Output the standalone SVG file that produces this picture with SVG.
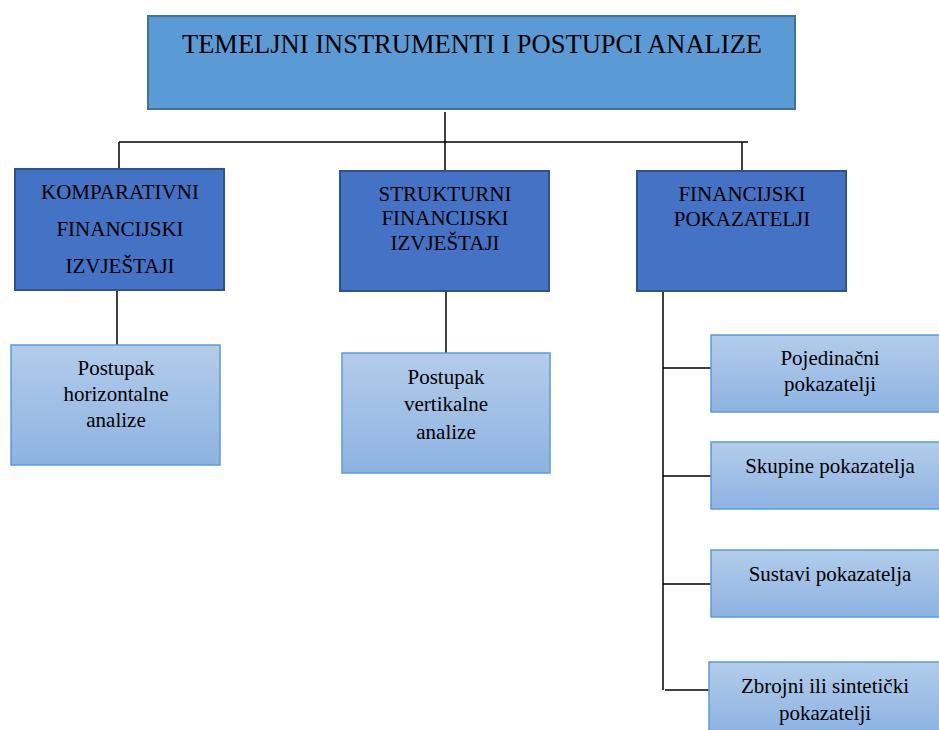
<svg xmlns="http://www.w3.org/2000/svg" width="939" height="730" viewBox="0 0 939 730">
<defs>
<linearGradient id="lg" x1="0" y1="0" x2="0" y2="1">
<stop offset="0" stop-color="#B3CCEA"/>
<stop offset="1" stop-color="#8DB3E2"/>
</linearGradient>
</defs>
<style>
.top{fill:#5B9BD5;stroke:#41719C;stroke-width:2}
.mid{fill:#4472C4;stroke:#2F528F;stroke-width:2}
.low{fill:url(#lg);stroke:#5B9BD5;stroke-width:1.5}
text{font-family:"Liberation Serif","Times New Roman",serif;fill:#000;text-anchor:middle}
.t1{font-size:26.5px}
.t2{font-size:21px}
.t3{font-size:21px}
.c{stroke:#000;stroke-width:1.5;fill:none}
</style>
<rect width="939" height="730" fill="#fff"/>
<g id="connectors">
<path class="c" d="M445 112V170"/>
<path class="c" d="M119 142H748" stroke="#333"/>
<path class="c" d="M119 142V169"/>
<path class="c" d="M742 142V171"/>
<path class="c" d="M117 290V345"/>
<path class="c" d="M446 292V353"/>
<path class="c" d="M663 292V690"/>
<path class="c" d="M663 368H711"/>
<path class="c" d="M663 476H711"/>
<path class="c" d="M663 584H711"/>
<path class="c" d="M665 690H711"/>
</g>
<g id="root">
<rect class="top" x="148" y="16" width="647" height="93"/>
<text class="t1" x="472" y="53">TEMELJNI INSTRUMENTI I POSTUPCI ANALIZE</text>
</g>
<g id="komparativni">
<rect class="mid" x="15" y="169" width="209" height="121"/>
<text class="t2" x="120" y="199">KOMPARATIVNI</text>
<text class="t2" x="120" y="236">FINANCIJSKI</text>
<text class="t2" x="120" y="273">IZVJEŠTAJI</text>
</g>
<g id="strukturni">
<rect class="mid" x="340" y="171" width="209" height="120"/>
<text class="t2" x="445" y="201">STRUKTURNI</text>
<text class="t2" x="445" y="225">FINANCIJSKI</text>
<text class="t2" x="445" y="250">IZVJEŠTAJI</text>
</g>
<g id="financijski">
<rect class="mid" x="637" y="171" width="209" height="120"/>
<text class="t2" x="742" y="201">FINANCIJSKI</text>
<text class="t2" x="742" y="226">POKAZATELJI</text>
</g>
<g id="horizontalna">
<rect class="low" x="11" y="345" width="209" height="120"/>
<text class="t3" x="116" y="375">Postupak</text>
<text class="t3" x="116" y="401">horizontalne</text>
<text class="t3" x="116" y="427">analize</text>
</g>
<g id="vertikalna">
<rect class="low" x="342" y="353" width="208" height="120"/>
<text class="t3" x="446" y="384">Postupak</text>
<text class="t3" x="446" y="411">vertikalne</text>
<text class="t3" x="446" y="439">analize</text>
</g>
<g id="pojedinacni">
<rect class="low" x="711" y="335" width="230" height="77"/>
<text class="t3" x="830" y="365">Pojedinačni</text>
<text class="t3" x="830" y="391">pokazatelji</text>
</g>
<g id="skupine">
<rect class="low" x="711" y="442" width="230" height="67"/>
<text class="t3" x="830" y="473">Skupine pokazatelja</text>
</g>
<g id="sustavi">
<rect class="low" x="711" y="550" width="230" height="67"/>
<text class="t3" x="830" y="581">Sustavi pokazatelja</text>
</g>
<g id="zbrojni">
<rect class="low" x="709" y="662" width="232" height="70"/>
<text class="t3" x="825" y="693">Zbrojni ili sintetički</text>
<text class="t3" x="825" y="720">pokazatelji</text>
</g>
</svg>
